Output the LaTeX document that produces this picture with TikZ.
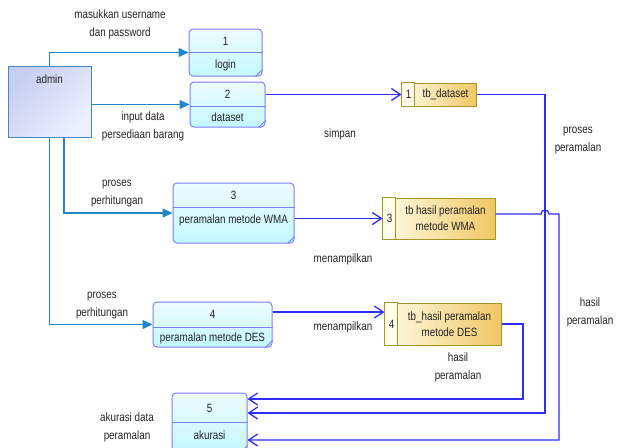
\documentclass[tikz,border=0pt]{standalone}
\usepackage{fontspec}
\setmainfont[FakeStretch=0.82]{Liberation Sans}
\usetikzlibrary{arrows.meta}
\definecolor{adminline}{RGB}{30,135,200}
\definecolor{flowblue}{RGB}{45,45,255}
\definecolor{procline}{RGB}{125,125,255}
\definecolor{procA}{RGB}{238,252,255}
\definecolor{procB}{RGB}{195,248,255}
\definecolor{extline}{RGB}{70,135,200}
\definecolor{extA}{RGB}{198,206,240}
\definecolor{extB}{RGB}{238,241,253}
\definecolor{storeline}{RGB}{165,150,40}
\definecolor{storeA}{RGB}{255,250,228}
\definecolor{storeB}{RGB}{240,200,100}
\definecolor{storenum}{RGB}{255,252,236}
\definecolor{txt}{RGB}{35,35,35}
\begin{document}
\begin{tikzpicture}[x=1pt,y=-1pt,
  every node/.style={font=\fontsize{12}{18}\selectfont, text=txt, inner sep=0pt, align=center},
  extbox/.style={draw=extline, line width=1pt, top color=extA, bottom color=extB, shading angle=45},
  procbox/.style={draw=procline, line width=1pt, rounded corners=4pt, top color=procA, bottom color=procB},
  storebox/.style={draw=storeline, line width=1pt, left color=storeA, right color=storeB},
  storetxt/.style={font=\fontsize{12}{16}\selectfont},
  adminflow/.style={draw=adminline, line width=1.5pt, -{Triangle[length=10pt,width=9pt]}},
  flow/.style={draw=flowblue, line width=1.3pt, -{Straight Barb[length=9pt,width=12pt]}}
]
\useasboundingbox (0,0) rectangle (617,447);

\node[extbox, minimum width=83, minimum height=71] (admin) at (49.5,101.5) {};
\node (admintxt) at (49.5,79) {admin};

\node[procbox, minimum width=73, minimum height=47] (p1) at (225.5,52.5) {};
\draw[procline, line width=1pt] (p1.west) -- (p1.east);
\draw[procline, line width=1pt] ([yshift=7pt]p1.south east) -- ([xshift=-7pt]p1.south east);
\node (p1num) at (225.5,41) {1};
\node (p1txt) at (225.5,65) {login};

\node[procbox, minimum width=75, minimum height=45] (p2) at (227.5,104.5) {};
\draw[procline, line width=1pt] (p2.west |- 0,106) -- (p2.east |- 0,106);
\draw[procline, line width=1pt] ([yshift=7pt]p2.south east) -- ([xshift=-7pt]p2.south east);
\node (p2num) at (227.5,94) {2};
\node (p2txt) at (227.5,117) {dataset};

\node[procbox, minimum width=121, minimum height=60] (p3) at (233.5,213) {};
\draw[procline, line width=1pt] (p3.west |- 0,207) -- (p3.east |- 0,207);
\draw[procline, line width=1pt] ([yshift=7pt]p3.south east) -- ([xshift=-7pt]p3.south east);
\node (p3num) at (233.5,195) {3};
\node (p3txt) at (233.5,220) {peramalan metode WMA};

\node[procbox, minimum width=119, minimum height=45] (p4) at (212.5,324.5) {};
\draw[procline, line width=1pt] (p4.west |- 0,327) -- (p4.east |- 0,327);
\draw[procline, line width=1pt] ([yshift=7pt]p4.south east) -- ([xshift=-7pt]p4.south east);
\node (p4num) at (212.5,314) {4};
\node (p4txt) at (212.5,338) {peramalan metode DES};

\node[procbox, minimum width=75, minimum height=59] (p5) at (209.5,422.5) {};
\draw[procline, line width=1pt] (p5.west |- 0,422) -- (p5.east |- 0,422);
\draw[procline, line width=1pt] ([yshift=7pt]p5.south east) -- ([xshift=-7pt]p5.south east);
\node (p5num) at (209.5,408) {5};
\node (p5txt) at (209.5,435) {akurasi};

\node[storebox, minimum width=74, minimum height=23] (ds1) at (439,94.5) {};
\draw[storeline, line width=1pt, fill=storenum] (ds1.north west) rectangle ([xshift=13pt]ds1.south west);
\node (ds1num) at (408.5,94.5) {1};
\node (ds1txt) at (445.5,94.5) {tb\_dataset};

\node[storebox, minimum width=112, minimum height=41] (ws) at (439,218.5) {};
\draw[storeline, line width=1pt, fill=storenum] (ws.north west) rectangle ([xshift=13pt]ws.south west);
\node (wsnum) at (389.5,218.5) {3};
\node[storetxt] (wstxt) at (445.5,218.5) {tb hasil peramalan\\metode WMA};

\node[storebox, minimum width=116, minimum height=42] (des) at (443,324) {};
\draw[storeline, line width=1pt, fill=storenum] (des.north west) rectangle ([xshift=13pt]des.south west);
\node (desnum) at (391.5,324) {4};
\node[storetxt] (destxt) at (449.5,324) {tb\_hasil peramalan\\metode DES};

\draw[adminflow] (admin.north) |- (p1.west);
\draw[adminflow] (p2.west -| admin.east) -- (p2.west);
\draw[adminflow] ([xshift=14.5pt]admin.south) |- (p3.west);
\draw[adminflow] (admin.south) |- (p4.west);

\coordinate (desin) at ([yshift=12pt]des.west);
\draw[flow] (p2.east |- ds1.west) -- (ds1.west);
\draw[flow] (p3.east |- ws.west) -- (ws.west);
\draw[flow] (p4.east |- desin) -- (desin);

\coordinate (p5a) at ([yshift=23.5pt]p5.east);
\coordinate (p5b) at ([yshift=9.5pt]p5.east);
\coordinate (p5c) at ([yshift=-17.5pt]p5.east);
\coordinate (dsdown) at (545,413);
\coordinate (wsout) at ([yshift=4.5pt]ws.east);
\coordinate (hopin) at (541,214);
\coordinate (wsdown) at (559,214);
\coordinate (desdown) at (523,399);
\draw[flow] (ds1.east) -| (dsdown) -- (p5b);
\draw[flow] (wsout) -- (hopin) arc (180:0:4pt) -- (wsdown) |- (p5c);
\draw[flow] (des.east) -| (desdown) -- (p5a);

\node (l1) at (120,24) {masukkan username\\dan password};
\node (l2) at (143,126) {input data\\persediaan barang};
\node (l3) at (340,134) {simpan};
\node (l4) at (578,141) {proses\\peramalan};
\node (l5) at (117,194) {proses\\perhitungan};
\node (l6) at (343,259) {menampilkan};
\node (l7) at (102,306) {proses\\perhitungan};
\node (l8) at (343,327) {menampilkan};
\node (l9) at (590,312) {hasil\\peramalan};
\node (l10) at (458,367) {hasil\\peramalan};
\node (l11) at (127,427) {akurasi data\\peramalan};
\end{tikzpicture}
\end{document}
